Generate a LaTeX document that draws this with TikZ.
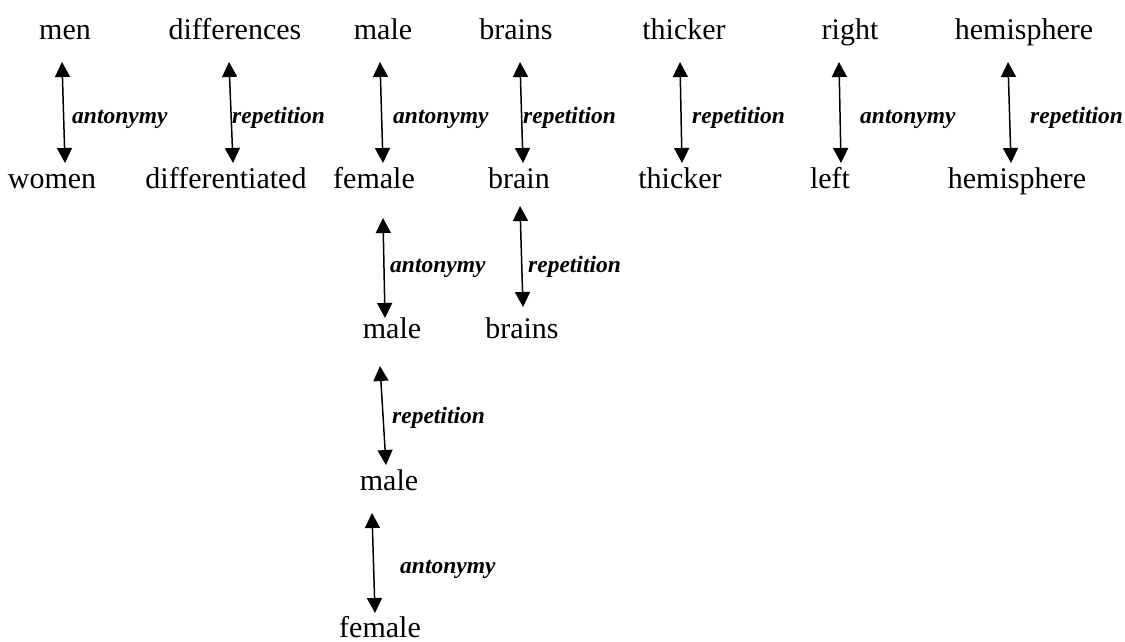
\documentclass[tikz,border=0pt]{standalone}
\usepackage{fontspec}
\setmainfont{Liberation Serif}
\usetikzlibrary{arrows.meta}
\begin{document}
\begin{tikzpicture}[x=1pt,y=-1pt,
  word/.style={anchor=base,inner sep=0pt,font=\fontsize{30}{30}\selectfont},
  rel/.style={anchor=base west,inner sep=0pt,font=\fontsize{23.5}{23.5}\selectfont\bfseries\itshape},
  link/.style={line width=1.5pt,{Triangle[width=15pt,length=15pt]}-{Triangle[width=15pt,length=15pt]}}]
\useasboundingbox (0,0) rectangle (1125,642);
% words
\node[word] (men)   at (65,40)   {men};
\node[word] (diffs) at (235,40)  {differences};
\node[word] (male1) at (383,40)  {male};
\node[word] (brs1)  at (516,40)  {brains};
\node[word] (thk1)  at (684,40)  {thicker};
\node[word] (right) at (850,40)  {right};
\node[word] (hem1)  at (1024,40) {hemisphere};
\node[word] (women) at (52,188)  {women};
\node[word] (difft) at (226,188) {differentiated};
\node[word] (fem1)  at (374,188) {female};
\node[word] (brn)   at (519,188) {brain};
\node[word] (thk2)  at (680,188) {thicker};
\node[word] (left)  at (830,188) {left};
\node[word] (hem2)  at (1017,188) {hemisphere};
\node[word] (male2) at (392,338) {male};
\node[word] (brs2)  at (522,338) {brains};
\node[word] (male3) at (389,490) {male};
\node[word] (fem2)  at (380,637) {female};
% arrow end points
\coordinate (a1) at (62,62);   \coordinate (b1) at (65,163);
\coordinate (a2) at (229,62);  \coordinate (b2) at (233,163);
\coordinate (a3) at (380,62);  \coordinate (b3) at (383,163);
\coordinate (a4) at (520,62);  \coordinate (b4) at (523,163);
\coordinate (a5) at (680,62);  \coordinate (b5) at (682,163);
\coordinate (a6) at (839,62);  \coordinate (b6) at (841,163);
\coordinate (a7) at (1008,62); \coordinate (b7) at (1011,163);
\coordinate (a8) at (383,218); \coordinate (b8) at (385,318);
\coordinate (a9) at (520,206); \coordinate (b9) at (523,307);
\coordinate (a10) at (380,366); \coordinate (b10) at (386,465);
\coordinate (a11) at (372,513); \coordinate (b11) at (375,613);
% relations
\draw[link] (a1) -- (b1);   \node[rel] (r1) at (72,123)  {antonymy};
\draw[link] (a2) -- (b2);   \node[rel] (r2) at (232,123) {repetition};
\draw[link] (a3) -- (b3);   \node[rel] (r3) at (393,123) {antonymy};
\draw[link] (a4) -- (b4);   \node[rel] (r4) at (523,123) {repetition};
\draw[link] (a5) -- (b5);   \node[rel] (r5) at (692,123) {repetition};
\draw[link] (a6) -- (b6);   \node[rel] (r6) at (860,123) {antonymy};
\draw[link] (a7) -- (b7);   \node[rel] (r7) at (1030,123) {repetition};
\draw[link] (a8) -- (b8);   \node[rel] (r8) at (390,272) {antonymy};
\draw[link] (a9) -- (b9);   \node[rel] (r9) at (528,272) {repetition};
\draw[link] (a10) -- (b10); \node[rel] (r10) at (392,423) {repetition};
\draw[link] (a11) -- (b11); \node[rel] (r11) at (400,573) {antonymy};
\end{tikzpicture}
\end{document}
